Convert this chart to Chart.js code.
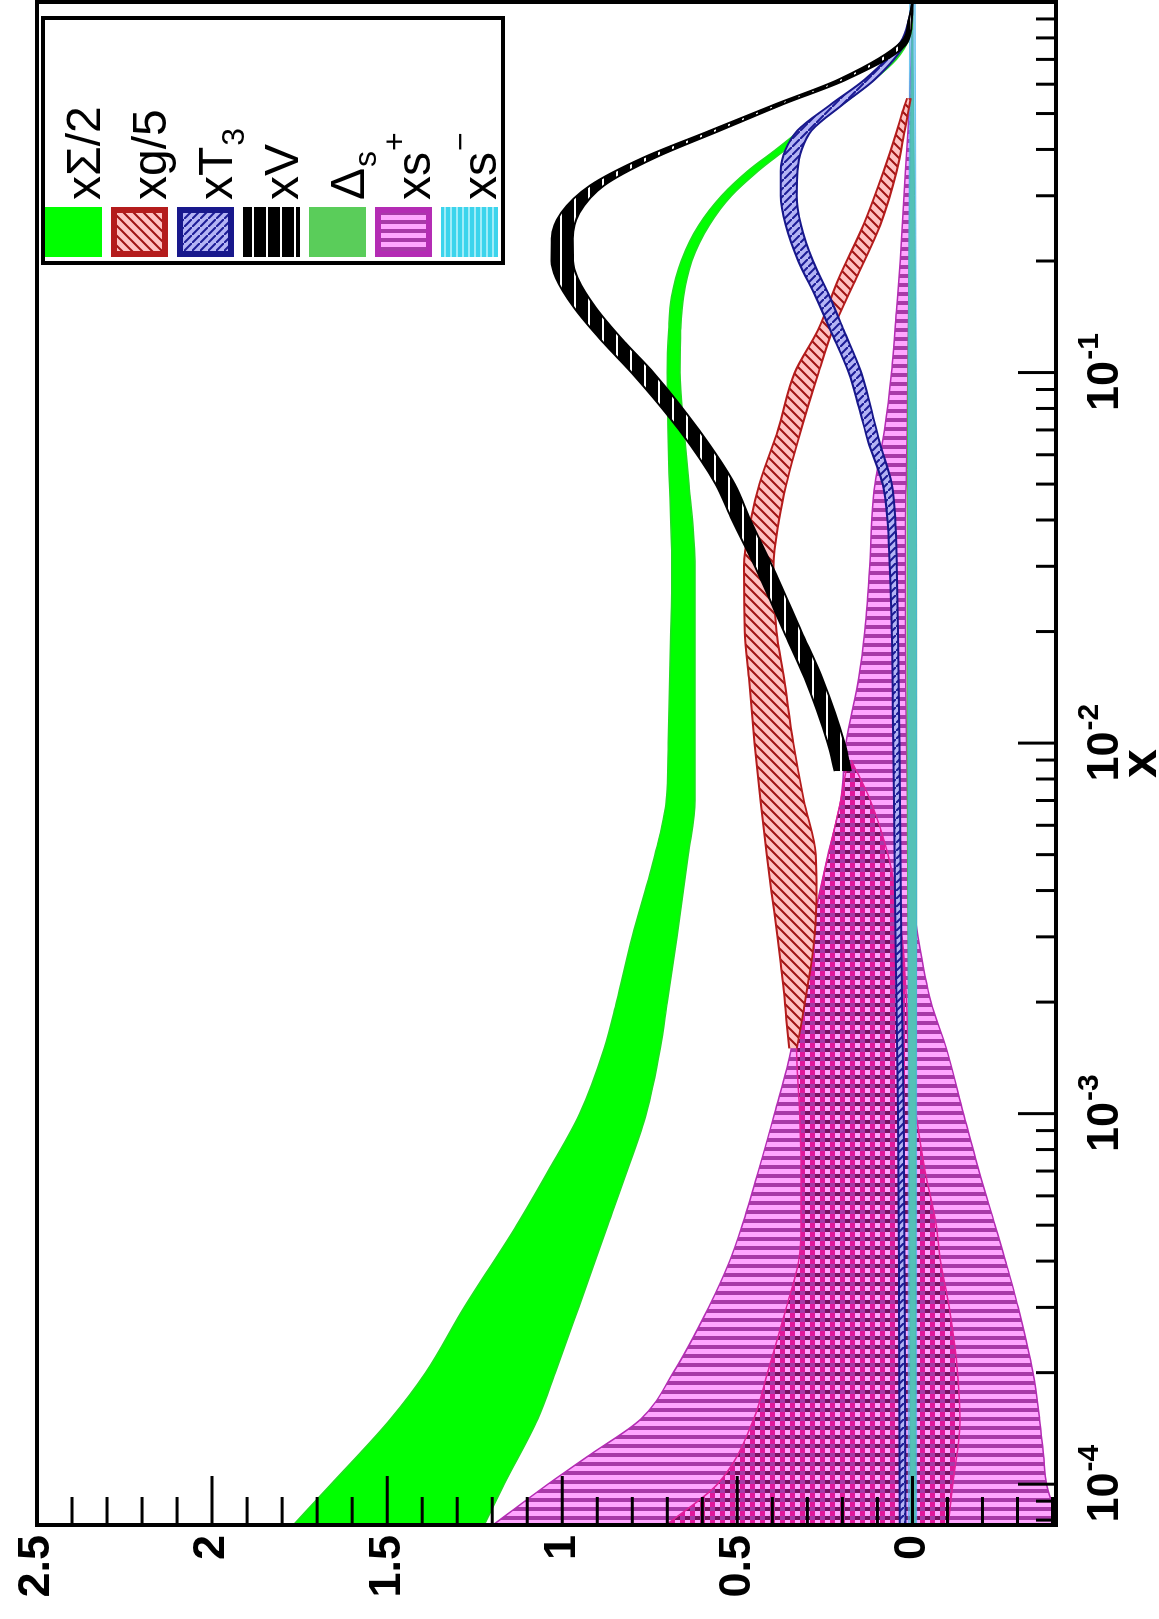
<!DOCTYPE html>
<html>
<head>
<meta charset="utf-8">
<script src="https://cdn.jsdelivr.net/npm/chart.js@4.4.1/dist/chart.umd.min.js"></script>
<style>
  html, body { margin: 0; padding: 0; background: #fff; overflow: hidden; }
  /* the plot is drawn upright and then turned a quarter to the left, like the scan */
  #wrap { position: absolute; left: 0; top: 0; width: 1619px; height: 1159px;
          transform-origin: 0 0; transform: translate(0, 1619px) rotate(-90deg); }
</style>
</head>
<body>
<div id="wrap"><canvas id="pdfChart" width="1619" height="1159"></canvas></div>
<script>
// xΣ/2 band
const sigmaX  = [7.8e-5, 1e-4, 1.5e-4, 2e-4, 3e-4, 5e-4, 7e-4, 1e-3, 1.5e-3, 2e-3, 3e-3, 5e-3, 7e-3, 0.01, 0.02, 0.03, 0.05, 0.07, 0.1, 0.13, 0.16, 0.2, 0.25, 0.3, 0.35, 0.4, 0.45, 0.5, 0.6, 0.7, 0.8, 0.9, 1];
const sigmaHi = [1.766, 1.660, 1.49, 1.39, 1.28, 1.13, 1.04, 0.95, 0.88, 0.845, 0.80, 0.735, 0.703, 0.697, 0.69, 0.687, 0.694, 0.698, 0.70, 0.696, 0.688, 0.66, 0.61, 0.545, 0.47, 0.39, 0.322, 0.262, 0.145, 0.068, 0.024, 0.006, 0];
const sigmaLo = [1.222, 1.166, 1.07, 1.02, 0.953, 0.87, 0.815, 0.76, 0.72, 0.70, 0.672, 0.64, 0.621, 0.621, 0.621, 0.621, 0.638, 0.652, 0.664, 0.662, 0.654, 0.63, 0.58, 0.517, 0.44, 0.362, 0.295, 0.234, 0.125, 0.046, 0.009, 0.0, 0];

// xg/5 band
const gluX  = [0.0015, 0.0018, 0.0021, 0.0025, 0.003, 0.004, 0.005, 0.007, 0.01, 0.015, 0.02, 0.03, 0.04, 0.05, 0.07, 0.1, 0.13, 0.18, 0.25, 0.35, 0.45, 0.5, 0.55];
const gluHi = [0.352, 0.36, 0.366, 0.375, 0.385, 0.403, 0.416, 0.434, 0.451, 0.467, 0.479, 0.481, 0.462, 0.437, 0.384, 0.336, 0.27, 0.21, 0.14, 0.082, 0.044, 0.03, 0.015];
const gluLo = [0.33, 0.315, 0.303, 0.29, 0.28, 0.274, 0.276, 0.31, 0.34, 0.367, 0.388, 0.397, 0.381, 0.36, 0.318, 0.268, 0.228, 0.16, 0.092, 0.045, 0.022, 0.013, 0.005];

// xT3 band
const t3X  = [7.8e-5, 3e-4, 1e-3, 3e-3, 0.01, 0.02, 0.03, 0.04, 0.05, 0.065, 0.08, 0.1, 0.13, 0.16, 0.2, 0.25, 0.3, 0.35, 0.4, 0.45, 0.53, 0.62, 0.78, 0.9, 1];
const t3Hi = [0.036, 0.038, 0.041, 0.048, 0.055, 0.059, 0.065, 0.071, 0.085, 0.126, 0.152, 0.182, 0.234, 0.276, 0.326, 0.362, 0.376, 0.376, 0.362, 0.328, 0.232, 0.134, 0.034, 0.010, 0];
const t3Lo = [0.020, 0.022, 0.025, 0.032, 0.037, 0.041, 0.045, 0.049, 0.059, 0.094, 0.118, 0.146, 0.196, 0.236, 0.284, 0.318, 0.330, 0.328, 0.316, 0.288, 0.198, 0.106, 0.018, 0.002, 0];

// xV band
const valX  = [0.0084, 0.01, 0.015, 0.02, 0.03, 0.04, 0.05, 0.07, 0.1, 0.12, 0.15, 0.18, 0.2, 0.23, 0.27, 0.32, 0.38, 0.45, 0.53, 0.62, 0.78, 0.9, 1];
const valHi = [0.222, 0.242, 0.308, 0.367, 0.450, 0.515, 0.562, 0.666, 0.802, 0.881, 0.967, 1.018, 1.031, 1.030, 1.003, 0.920, 0.769, 0.577, 0.391, 0.207, 0.032, 0.010, 0];
const valLo = [0.176, 0.194, 0.258, 0.317, 0.400, 0.463, 0.508, 0.610, 0.740, 0.819, 0.905, 0.956, 0.969, 0.970, 0.951, 0.880, 0.735, 0.549, 0.369, 0.185, 0.014, 0.002, 0];

// Δs band
const dsX  = [7.8e-5, 1e-3, 3e-3, 0.01, 0.03, 0.1, 0.3, 1];
const dsHi = [0.006, 0.009, 0.013, 0.015, 0.015, 0.013, 0.008, 0];
const dsLo = [-0.008, -0.01, -0.012, -0.012, -0.012, -0.01, -0.006, 0];

// xs+ band, and the denser inner band drawn inside it
const spX  = [7.8e-5, 1e-4, 1.2e-4, 1.5e-4, 2e-4, 3e-4, 4e-4, 5e-4, 7e-4, 1e-3, 1.5e-3, 2e-3, 3e-3, 4e-3, 5e-3, 7e-3, 0.01, 0.015, 0.02, 0.03, 0.04, 0.05, 0.07, 0.1, 0.15, 0.2, 0.3, 0.45, 0.6, 0.8, 1];
const spHi = [1.195, 1.041, 0.921, 0.775, 0.683, 0.582, 0.522, 0.486, 0.440, 0.394, 0.346, 0.333, 0.293, 0.264, 0.241, 0.205, 0.19, 0.153, 0.136, 0.122, 0.116, 0.107, 0.080, 0.060, 0.045, 0.035, 0.024, 0.013, 0.006, 0.002, 0];
const spLo = [-0.42, -0.383, -0.374, -0.363, -0.344, -0.302, -0.266, -0.236, -0.19, -0.146, -0.097, -0.053, -0.016, 0.002, 0.009, 0.014, 0.017, 0.019, 0.02, 0.02, 0.02, 0.018, 0.015, 0.013, 0.01, 0.008, 0.006, 0.003, 0.001, 0, 0];
const spInX  = [7.8e-5, 1e-4, 1.5e-4, 2e-4, 3e-4, 4e-4, 5e-4, 7e-4, 1e-3, 1.5e-3, 2e-3, 3e-3, 5e-3, 7e-3, 0.009];
const spInHi = [0.70, 0.557, 0.453, 0.414, 0.36, 0.325, 0.318, 0.318, 0.322, 0.331, 0.315, 0.29, 0.24, 0.205, 0.185];
const spInLo = [-0.102, -0.115, -0.136, -0.129, -0.105, -0.08, -0.068, -0.036, -0.01, 0.011, 0.017, 0.03, 0.07, 0.12, 0.175];

// xs- band
const smX  = [7.8e-5, 1e-3, 0.01, 0.1, 1];
const smHi = [0.012, 0.012, 0.012, 0.011, 0.008];
const smLo = [-0.012, -0.012, -0.012, -0.011, -0.008];

// axes and legend text
const yTickValues = [0, 0.5, 1, 1.5, 2, 2.5];
const xDecades = [1e-4, 1e-3, 1e-2, 1e-1];
const xDecadeExp = ['-4', '-3', '-2', '-1'];
const legendNames = ['xΣ/2', 'xg/5', 'xT', 'xV', 'Δ', 'xs', 'xs'];
const legendMarks = ['', '', '3', '', 's', '+', '−'];
const legendMarkPos = ['', '', 'sub', '', 'sub', 'sup', 'sup'];

const canvas = document.getElementById('pdfChart');
const ctx = canvas.getContext('2d');
const FONT = '"Liberation Sans", Arial, sans-serif';

function tile(w, h, paint) {
  const c = document.createElement('canvas');
  c.width = w; c.height = h;
  paint(c.getContext('2d'));
  return ctx.createPattern(c, 'repeat');
}

const redPat = tile(10, 10, g => {
  g.fillStyle = '#ffc2c2'; g.fillRect(0, 0, 10, 10);
  g.strokeStyle = '#a01414'; g.lineWidth = 2;
  g.beginPath(); g.moveTo(-1, 11); g.lineTo(11, -1); g.moveTo(-1, 1); g.lineTo(1, -1); g.moveTo(9, 11); g.lineTo(11, 9); g.stroke();
});
const bluePat = tile(8, 8, g => {
  g.fillStyle = '#b4b4f4'; g.fillRect(0, 0, 8, 8);
  g.strokeStyle = '#1c1c96'; g.lineWidth = 2;
  g.beginPath(); g.moveTo(-1, -1); g.lineTo(9, 9); g.stroke();
});
const blackPat = tile(4, 14, g => {
  g.fillStyle = '#000'; g.fillRect(0, 0, 4, 14);
  g.fillStyle = '#fff'; g.fillRect(0, 0, 4, 2);
});
const magPat = tile(9, 4, g => {
  g.fillStyle = '#ffa6ff'; g.fillRect(0, 0, 9, 4);
  g.fillStyle = '#a83aa8'; g.fillRect(0, 0, 4, 4);
});
const innerPat = tile(9, 10, g => {
  g.fillStyle = '#e0179a'; g.fillRect(4, 0, 5, 5);
  g.fillStyle = '#78105e'; g.fillRect(0, 5, 4, 5);
});
const cyanPat = tile(4, 6, g => {
  g.fillStyle = '#3cd4ec'; g.fillRect(0, 0, 4, 6);
  g.fillStyle = '#a0ecf8'; g.fillRect(0, 0, 4, 2);
});

function band(label, xs, hi, lo, fillStyle, lineColor, lineWidth, order) {
  const common = { borderColor: lineColor, borderWidth: lineWidth, pointRadius: 0,
                   cubicInterpolationMode: 'monotone' };
  return [
    Object.assign({ label: label, data: xs.map((x, i) => ({ x: x, y: hi[i] })),
                    backgroundColor: fillStyle, fill: '+1', order: order }, common),
    Object.assign({ label: label + ' low', data: xs.map((x, i) => ({ x: x, y: lo[i] })),
                    fill: false, order: order - 0.5 }, common)
  ];
}

const bands = [
  { fill: '#00ff00', line: '#22dd22', sets: band('xΣ/2', sigmaX, sigmaHi, sigmaLo, '#00ff00', '#22dd22', 1.5, 4) },
  { fill: redPat, line: '#b41c1c', sets: band('xg/5', gluX, gluHi, gluLo, redPat, '#b41c1c', 2, 3) },
  { fill: bluePat, line: '#18188c', sets: band('xT3', t3X, t3Hi, t3Lo, bluePat, '#18188c', 2, 2) },
  { fill: blackPat, line: '#000000', sets: band('xV', valX, valHi, valLo, blackPat, '#000000', 2, 1) },
  { fill: '#5acd5a', line: '#4cbc4c', sets: band('Δs', dsX, dsHi, dsLo, '#5acd5a', '#4cbc4c', 1, 6) },
  { fill: magPat, line: '#b42cb4', sets: band('xs+', spX, spHi, spLo, magPat, '#b42cb4', 1.5, 8) },
  { fill: cyanPat, line: '#40c8e8', sets: band('xs-', smX, smHi, smLo, 'rgba(80,185,240,0.62)', 'rgba(70,180,235,0.7)', 1, 5) }
];
const innerBand = band('xs+ inner', spInX, spInHi, spInLo, innerPat, '#e0209a', 1.5, 7);

const datasets = [];
bands.forEach(b => datasets.push(...b.sets));
datasets.push(...innerBand);

const framePlugin = {
  id: 'frame',
  afterDraw(chart) {
    const c = chart.ctx, a = chart.chartArea, x = chart.scales.x, y = chart.scales.y;
    c.save();
    c.strokeStyle = '#000';
    c.fillStyle = '#000';
    c.lineWidth = 3;
    // inward ticks on the value axis
    for (let i = -4; i <= 25; i++) {
      const py = y.getPixelForValue(i / 10);
      const len = i % 5 === 0 ? 49 : 28;
      c.beginPath(); c.moveTo(a.left, py); c.lineTo(a.left + len, py); c.stroke();
    }
    // inward ticks on the log x axis
    for (let e = -5; e <= 0; e++) {
      for (let k = 1; k <= 9; k++) {
        const v = k * Math.pow(10, e);
        if (v < x.min * 0.999 || v > x.max * 1.001) continue;
        const px = x.getPixelForValue(v);
        const len = k === 1 ? 38 : 20;
        c.beginPath(); c.moveTo(px, a.bottom); c.lineTo(px, a.bottom - len); c.stroke();
      }
    }
    c.lineWidth = 4;
    c.strokeRect(a.left, a.top, a.right - a.left, a.bottom - a.top);

    // decade labels 10^n
    xDecades.forEach((d, i) => {
      const px = x.getPixelForValue(d);
      c.font = 'bold 45px ' + FONT;
      const w1 = c.measureText('10').width;
      c.font = 'bold 30px ' + FONT;
      const w2 = c.measureText(xDecadeExp[i]).width;
      const start = px - (w1 + w2) / 2;
      c.textAlign = 'left';
      c.textBaseline = 'alphabetic';
      c.font = 'bold 45px ' + FONT;
      c.fillText('10', start, 1118);
      c.font = 'bold 30px ' + FONT;
      c.fillText(xDecadeExp[i], start + w1 + 1, 1098);
    });
    c.font = 'bold 52px ' + FONT;
    c.textAlign = 'center';
    c.fillText('x', (a.left + a.right) / 2, 1156);

    // legend box
    const bx = 1356, by = 43, bw = 245, bh = 460;
    c.fillStyle = '#fff';
    c.fillRect(bx, by, bw, bh);
    bands.forEach((b, i) => {
      const top = 45 + i * 66;
      c.fillStyle = b.fill;
      c.fillRect(1362, top, 50, 57);
      if (i === 1 || i === 2 || i === 5) {
        c.strokeStyle = b.line; c.lineWidth = 6;
        c.strokeRect(1365, top + 3, 44, 51);
      }
      const base = 100 + i * 66;
      c.fillStyle = '#000';
      c.textAlign = 'left';
      c.font = '48px ' + FONT;
      c.fillText(legendNames[i], 1419, base);
      if (legendMarks[i]) {
        const w = c.measureText(legendNames[i]).width;
        c.font = '32px ' + FONT;
        const off = legendMarkPos[i] === 'sub' ? 12 : -25;
        c.fillText(legendMarks[i], 1419 + w + 1, base + off);
      }
    });
    c.strokeStyle = '#000';
    c.lineWidth = 4;
    c.strokeRect(bx, by, bw, bh);
    c.restore();
  }
};

new Chart(ctx, {
  type: 'line',
  data: { datasets: datasets },
  options: {
    responsive: false,
    animation: false,
    devicePixelRatio: 1,
    layout: { padding: { top: 31, right: 2, bottom: 0, left: 0 } },
    plugins: { legend: { display: false }, tooltip: { enabled: false } },
    scales: {
      x: {
        type: 'logarithmic', min: 7.76e-5, max: 1,
        ticks: { display: false, autoSkip: false },
        grid: { display: false, drawTicks: false },
        border: { display: false },
        afterFit: s => { s.height = 103; }
      },
      y: {
        type: 'linear', min: -0.41, max: 2.5,
        afterBuildTicks: s => { s.ticks = yTickValues.map(v => ({ value: v })); },
        ticks: {
          color: '#000', padding: 10,
          font: { family: FONT, size: 45, weight: 'bold' },
          callback: v => String(v)
        },
        grid: { display: false, drawTicks: false },
        border: { display: false },
        afterFit: s => { s.width = 94; }
      }
    }
  },
  plugins: [framePlugin]
});
</script>
</body>
</html>
